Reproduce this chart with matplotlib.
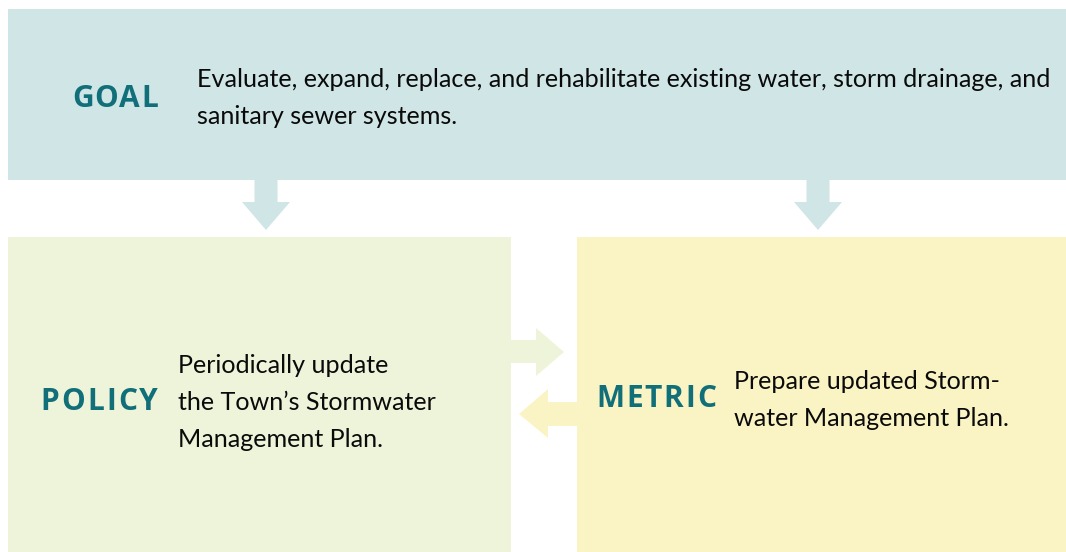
import matplotlib
matplotlib.use('Agg')
import matplotlib.pyplot as plt
from matplotlib.patches import Rectangle, Polygon
from matplotlib.font_manager import FontProperties
from matplotlib.textpath import text_to_path

plt.rcParams['font.family'] = ['Lato', 'DejaVu Sans']

W, H, DPI = 1066, 552, 100

# 文字内容
labels = ['GOAL', 'POLICY', 'METRIC']
goal_lines = ['Evaluate, expand, replace, and rehabilitate existing water, storm drainage, and',
              'sanitary sewer systems.']
policy_lines = ['Periodically update', 'the Town\u2019s Stormwater', 'Management Plan.']
metric_lines = ['Prepare updated Storm-', 'water Management Plan.']

# 颜色
c_goal = '#d0e5e6'
c_policy = '#eef4da'
c_metric = '#faf4c5'
c_label = '#106f78'

fig = plt.figure(figsize=(W / DPI, H / DPI), dpi=DPI)
ax = fig.add_axes([0, 0, 1, 1])
ax.set_xlim(0, W)
ax.set_ylim(H, 0)
ax.axis('off')

# 三个方框
ax.add_patch(Rectangle((8, 9), 1058, 171, color=c_goal, lw=0))
ax.add_patch(Rectangle((8, 237), 503, 320, color=c_policy, lw=0))
ax.add_patch(Rectangle((577, 237), 489, 320, color=c_metric, lw=0))


def down_arrow(xc, color):
    pts = [(xc - 11.5, 180), (xc + 11.5, 180), (xc + 11.5, 202), (xc + 24, 202),
           (xc, 230), (xc - 24, 202), (xc - 11.5, 202)]
    ax.add_patch(Polygon(pts, closed=True, color=color, lw=0))


down_arrow(266, c_goal)
down_arrow(818, c_goal)

# 左右箭头
ax.add_patch(Polygon([(511, 340), (536, 340), (536, 328), (564, 352), (536, 376),
                      (536, 363), (511, 363)], closed=True, color=c_policy, lw=0))
ax.add_patch(Polygon([(577, 402), (548, 402), (548, 389), (519, 414), (548, 438),
                      (548, 426), (577, 426)], closed=True, color=c_metric, lw=0))


def tracked(text, x0, x1, y, size):
    # 按目标宽度拉开字间距
    fp = FontProperties(family='Open Sans', weight='bold', size=size)
    ws = [text_to_path.get_text_width_height_descent(ch, fp, ismath=False)[0] * DPI / 72
          for ch in text]
    gap = (x1 - x0 - sum(ws)) / (len(text) - 1)
    x = x0
    for ch, w in zip(text, ws):
        ax.text(x, y, ch, fontproperties=fp, color=c_label, ha='left', va='baseline')
        x += w + gap


tracked(labels[0], 72, 158, 107, 21.5)
tracked(labels[1], 40, 158, 410, 21.5)
tracked(labels[2], 596, 716, 407, 21.5)

# 正文字号按第一行宽度缩放
fp_body = FontProperties(family='Lato', size=19)
w0 = text_to_path.get_text_width_height_descent(goal_lines[0], fp_body, ismath=False)[0] * DPI / 72
fs = 19 * min(1.0, 853 / w0)
body = dict(fontsize=fs, color='#0a0a0a', ha='left', va='baseline')

for i, s in enumerate(goal_lines):
    ax.text(197, 87 + 37 * i, s, **body)
for i, s in enumerate(policy_lines):
    ax.text(178, 373 + 37 * i, s, **body)
for i, s in enumerate(metric_lines):
    ax.text(734, 389 + 37 * i, s, **body)

fig.savefig('out.png', dpi=DPI)
